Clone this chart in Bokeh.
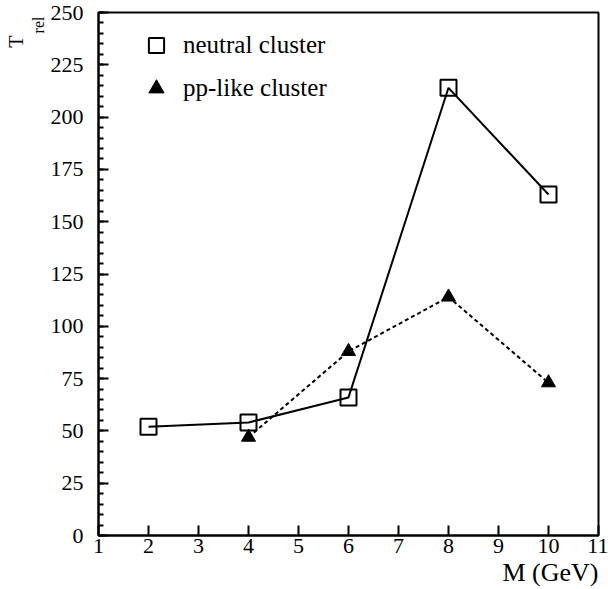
from bokeh.plotting import figure
from bokeh.models import Range1d, Title, Legend, LegendItem, FixedTicker
from bokeh.embed import file_html
from bokeh.resources import INLINE

# data
mass = [2, 4, 6, 8, 10]
neutral = [52, 54, 66, 214, 163]
mass_pp = [4, 6, 8, 10]
pplike = [47, 88, 114, 73]
x_ticks = list(range(1, 12))
y_ticks = list(range(0, 251, 25))

FONT = "Liberation Serif"

p = figure(width=608, height=589, output_backend="svg", toolbar_location=None,
           x_range=Range1d(1, 11), y_range=Range1d(0, 250),
           min_border_left=98, min_border_right=10, min_border_top=12, min_border_bottom=54)
p.grid.visible = False
p.background_fill_color = "white"
p.outline_line_color = "black"
p.outline_line_width = 2

p.line(mass, neutral, line_color="black", line_width=2)
r1 = p.scatter(mass, neutral, marker="square", size=16, line_color="black", line_width=2,
               fill_color=None)
p.line(mass_pp, pplike, line_color="black", line_width=2, line_dash="4 3")
r2 = p.scatter(mass_pp, pplike, marker="triangle", size=14, line_color="black", fill_color="black")

for ax in (p.xaxis[0], p.yaxis[0]):
    ax.axis_line_width = 2
    ax.major_tick_line_width = 2
    ax.minor_tick_line_width = 2
    ax.major_tick_in = 10
    ax.major_tick_out = 0
    ax.major_label_text_font = FONT
    ax.major_label_text_font_size = "22px"
    ax.major_label_text_color = "black"

p.xaxis.ticker = FixedTicker(ticks=x_ticks)
p.xaxis.minor_tick_in = 0
p.xaxis.minor_tick_out = 0
p.xaxis.major_label_standoff = 3
p.yaxis.ticker = FixedTicker(ticks=y_ticks, minor_ticks=list(range(0, 251, 5)))
p.yaxis.minor_tick_in = 5
p.yaxis.minor_tick_out = 0
p.yaxis.major_label_standoff = 15

# axis titles
p.add_layout(Title(text="M (GeV)", align="right", standoff=0, text_font=FONT,
                   text_font_size="26px", text_font_style="normal",
                   text_color="black"), "below")
p.add_layout(Title(text="rel", align="right", standoff=2, offset=4, text_font=FONT,
                   text_font_size="16px", text_font_style="normal",
                   text_color="black"), "left")
p.add_layout(Title(text="T", align="right", standoff=0, offset=23, text_font=FONT,
                   text_font_size="20px", text_font_style="normal",
                   text_color="black"), "left")

legend = Legend(items=[LegendItem(label="neutral cluster", renderers=[r1]),
                       LegendItem(label="pp-like cluster", renderers=[r2])],
                location=(39, 428), padding=0, spacing=5, glyph_width=38, glyph_height=38,
                label_height=38, label_standoff=8, border_line_color=None,
                background_fill_alpha=0, label_text_font=FONT, label_text_font_size="25px",
                label_text_color="black")
p.add_layout(legend)

open("out.html", "w").write(file_html(p, INLINE))
